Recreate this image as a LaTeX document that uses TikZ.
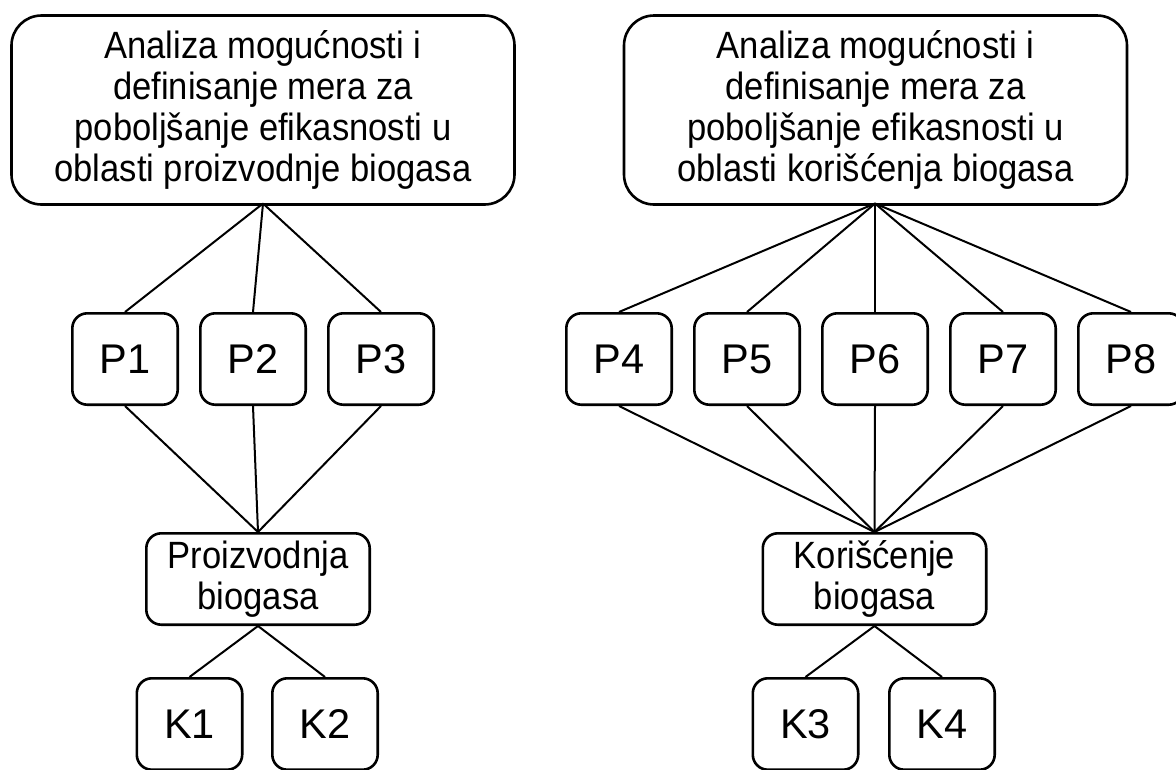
\documentclass[tikz,border=0pt]{standalone}
\usepackage{fontspec}
\setmainfont{Liberation Sans}
\newfontfamily\boxfont{Liberation Sans}[FakeStretch=0.91]
\begin{document}
\begin{tikzpicture}[x=1pt,y=-1pt,
  bigbox/.style={draw, line width=2.6pt, rounded corners=30pt, minimum width=503pt, minimum height=189pt, align=center, inner sep=0pt, font=\boxfont\fontsize{38}{41}\selectfont},
  pbox/.style={draw, line width=2.6pt, rounded corners=15pt, minimum width=105.4pt, minimum height=91.4pt, inner sep=0pt, font=\fontsize{41.5}{48}\selectfont},
  midbox/.style={draw, line width=2.6pt, rounded corners=15pt, minimum width=223.4pt, minimum height=91.4pt, align=center, inner sep=0pt, font=\boxfont\fontsize{38}{41}\selectfont},
  conn/.style={draw, line width=2pt}]
\useasboundingbox (0,0) rectangle (1176,769);
\clip (0,0) rectangle (1176,769);
% top boxes
\node[bigbox] (T1) at (263,110) {Analiza mogućnosti i\\definisanje mera za\\poboljšanje efikasnosti u\\oblasti proizvodnje biogasa};
\node[bigbox] (T2) at (875.5,110) {Analiza mogućnosti i\\definisanje mera za\\poboljšanje efikasnosti u\\oblasti korišćenja biogasa};
% P boxes
\node[pbox] (P1) at (125,359) {P1};
\node[pbox] (P2) at (253,359) {P2};
\node[pbox] (P3) at (381,359) {P3};
\node[pbox] (P4) at (619,359) {P4};
\node[pbox] (P5) at (747,359) {P5};
\node[pbox] (P6) at (875,359) {P6};
\node[pbox] (P7) at (1003,359) {P7};
\node[pbox] (P8) at (1131,359) {P8};
% middle boxes
\node[midbox] (M1) at (258,579) {Proizvodnja\\biogasa};
\node[midbox] (M2) at (874.5,579) {Korišćenje\\biogasa};
% K boxes
\node[pbox] (K1) at (189.5,724) {K1};
\node[pbox] (K2) at (325,724) {K2};
\node[pbox] (K3) at (805.5,724) {K3};
\node[pbox] (K4) at (942,724) {K4};
% connectors
\coordinate (T1b) at (263,203.5);
\coordinate (T2b) at (875,203.5);
\foreach \p in {P1,P2,P3} {
  \draw[conn] (T1b) -- (\p.north);
  \draw[conn] (\p.south) -- (M1.north);
}
\foreach \p in {P4,P5,P6,P7,P8} {
  \draw[conn] (T2b) -- (\p.north);
  \draw[conn] (\p.south) -- (M2.north);
}
\draw[conn] (M1.south) -- (K1.north);
\draw[conn] (M1.south) -- (K2.north);
\draw[conn] (M2.south) -- (K3.north);
\draw[conn] (M2.south) -- (K4.north);
\end{tikzpicture}
\end{document}
